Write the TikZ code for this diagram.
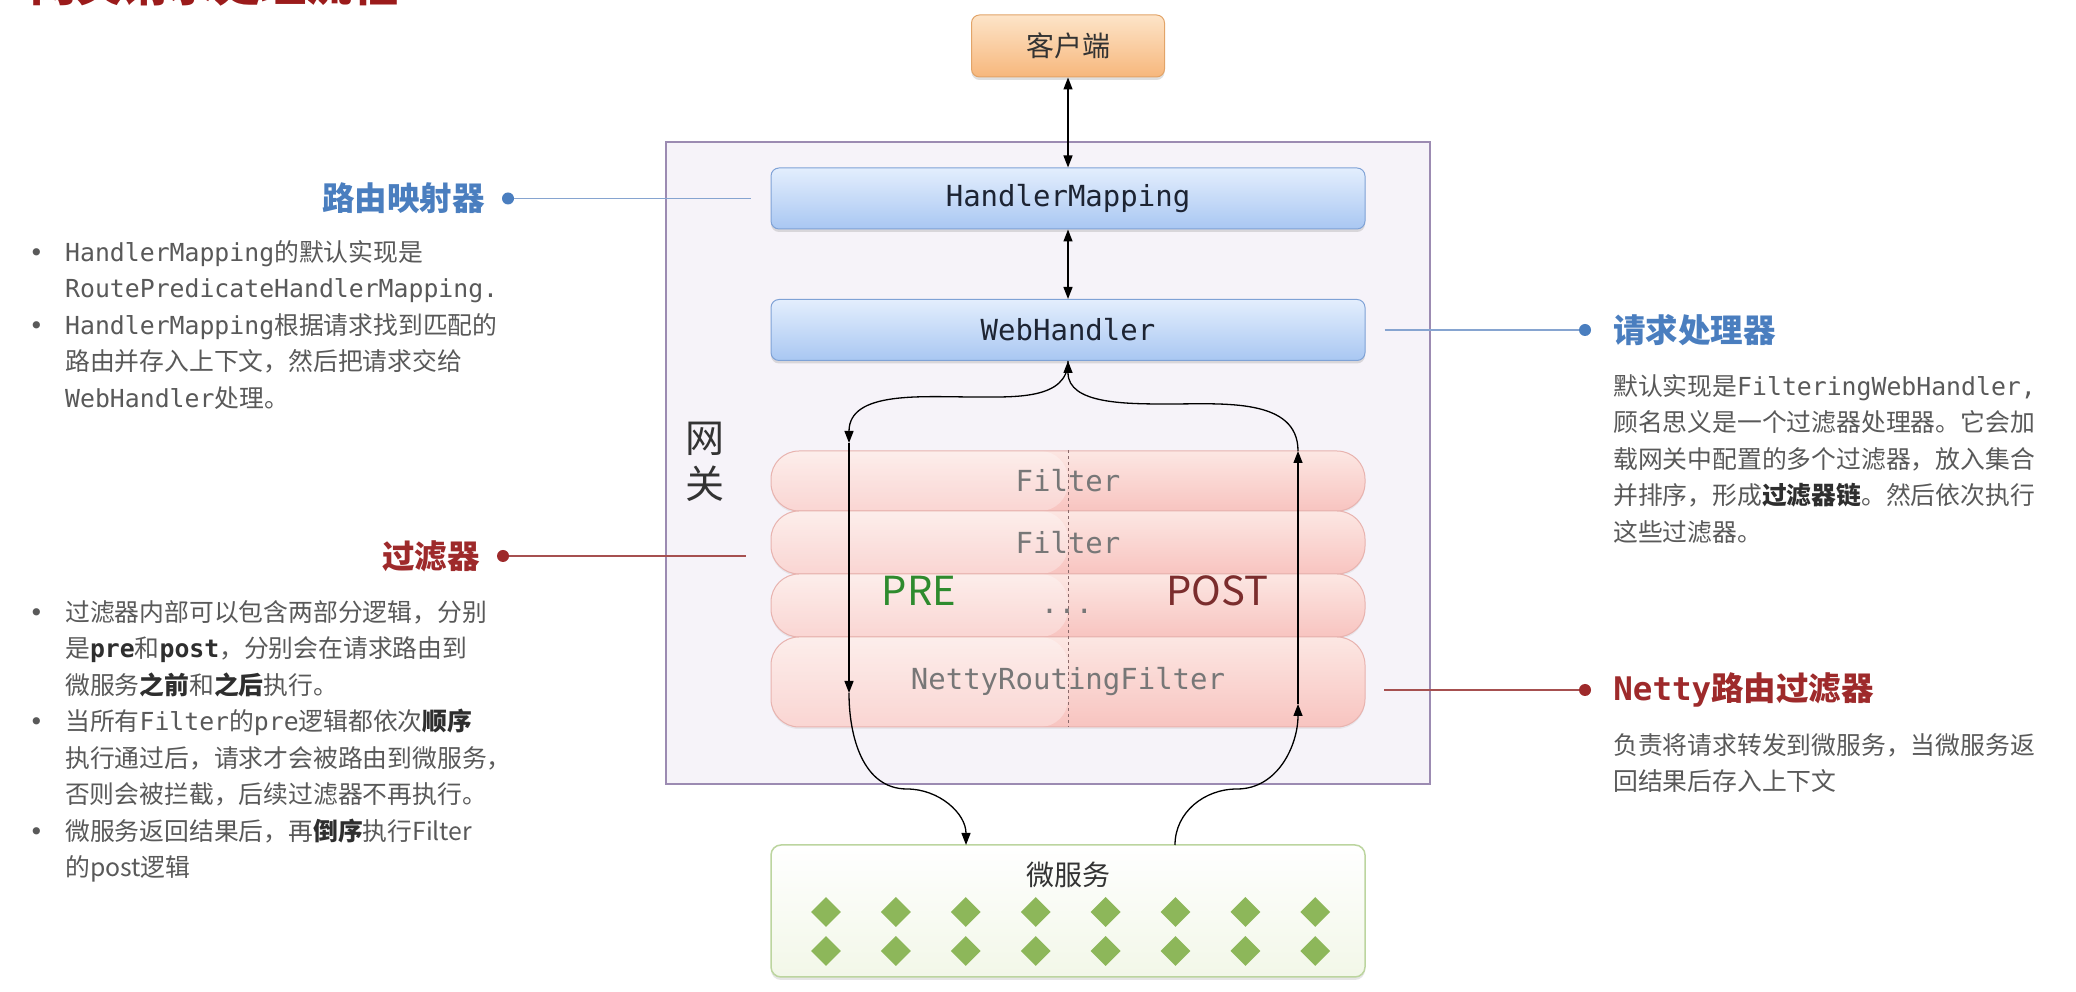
\documentclass[tikz,border=0pt]{standalone}
\usepackage{fontspec}
\setmainfont{Noto Sans CJK SC}
\newfontfamily\codefont{DejaVu Sans Mono}
\newfontfamily\symfont{DejaVu Sans}
\usetikzlibrary{arrows.meta,positioning,shadows,shapes.geometric}

\definecolor{titlered}{HTML}{9B1B1B}
\definecolor{labelblue}{HTML}{4A7EBF}
\definecolor{lineblue}{HTML}{86A4D0}
\definecolor{labelred}{HTML}{9E2A2B}
\definecolor{linered}{HTML}{A65050}
\definecolor{bodygray}{HTML}{595959}
\definecolor{boldgray}{HTML}{2E2E2E}
\definecolor{gwfill}{HTML}{F6F3F9}
\definecolor{gwline}{HTML}{9C8BB2}
\definecolor{hmtop}{HTML}{E3EEFD}
\definecolor{hmbot}{HTML}{A9C7F2}
\definecolor{hmline}{HTML}{7FA2D6}
\definecolor{hmtext}{HTML}{1D2433}
\definecolor{cltop}{HTML}{FDE4C8}
\definecolor{clbot}{HTML}{F7B77C}
\definecolor{clline}{HTML}{E2A468}
\definecolor{fttop}{HTML}{FCE7E3}
\definecolor{ftbot}{HTML}{F8C4C0}
\definecolor{ftline}{HTML}{E8B3AF}
\definecolor{filtertext}{HTML}{777777}
\definecolor{dashgray}{HTML}{8A6A6A}
\definecolor{msline}{HTML}{BCD59F}
\definecolor{msbot}{HTML}{F2F7E8}
\definecolor{leafgreen}{HTML}{8DB75A}
\definecolor{pregreen}{HTML}{2E8B2E}
\definecolor{postred}{HTML}{7B2D2D}
\definecolor{labeltext}{HTML}{333333}

\newcommand{\code}[1]{{\codefont #1}}
\newcommand{\hl}[1]{{\bfseries\color{boldgray}#1}}
\newcommand{\bl}{\makebox[36pt][l]{\symfont •}}
\newcommand{\ind}{\hspace*{36pt}}

\tikzset{
  >={Triangle[length=12pt,width=9pt]},
  flowline/.style={line width=1.3pt},
  handler/.style={draw=hmline, line width=1pt, rounded corners=8pt, top color=hmtop, bottom color=hmbot,
    minimum width=594pt, minimum height=61pt, inner sep=0pt, text=hmtext,
    font=\codefont\fontsize{29}{29}\selectfont,
    drop shadow={shadow xshift=0pt, shadow yshift=-3pt, opacity=.25}},
  client/.style={handler, draw=clline, top color=cltop, bottom color=clbot, text=labeltext,
    minimum width=193pt, minimum height=62pt, font=\fontsize{28}{28}\selectfont},
  filterbox/.style={draw=ftline, line width=1pt, rounded corners=28pt, top color=fttop, bottom color=ftbot,
    minimum width=594pt, inner sep=0pt, text=filtertext, font=\codefont\fontsize{29}{29}\selectfont,
    path picture={\fill[white,opacity=.3] (path picture bounding box.south west) rectangle (path picture bounding box.north);},
    drop shadow={shadow xshift=0pt, shadow yshift=-2pt, opacity=.12}},
  msbox/.style={draw=msline, line width=1.5pt, rounded corners=10pt, top color=white, bottom color=msbot,
    minimum width=594pt, minimum height=132pt, inner sep=0pt,
    drop shadow={shadow xshift=0pt, shadow yshift=-3pt, opacity=.2}},
  leafnode/.style={shape=diamond, fill=leafgreen, minimum width=30pt, minimum height=30pt, inner sep=0pt},
  calldot/.style={circle, minimum size=12pt, inner sep=0pt},
  calltitle/.style={inner sep=0pt, font=\bfseries\fontsize{32.5}{32.5}\selectfont},
  callline/.style={line width=1.3pt},
  bodytext/.style={anchor=north west, align=left, inner sep=0pt, text=bodygray, font=\fontsize{24.8}{36.5}\selectfont}
}

\begin{document}
\begin{tikzpicture}[x=1pt,y=1pt]

  \def\cx{1068}   %centre line of the gateway column

  %BACKGROUND
  \fill[white] (0,0) rectangle (2076,992);
  \useasboundingbox (0,0) rectangle (2076,992);

  %TITLE (cut off by the top edge)
  \node[anchor=base west, inner sep=0pt, text=titlered, font=\bfseries\fontsize{46}{46}\selectfont] (title) at (30,990) {网关请求处理流程};

  %GATEWAY
  \node[draw=gwline, line width=1.2pt, fill=gwfill, minimum width=764pt, minimum height=642pt, inner sep=0pt] (gw) at (1048,529) {};
  \node[align=center, inner sep=0pt, text=labeltext, font=\fontsize{39}{46}\selectfont] (gwname) at (705,530) {网\\关};

  %CLIENT AND HANDLERS
  \node[client] (client) at (\cx,946) {客户端};
  \node[handler] (hm) at (\cx,793.5) {HandlerMapping};
  \node[handler] (wh) at (\cx,662) {WebHandler};
  \draw[flowline,<->] (client) -- (hm);
  \draw[flowline,<->] (hm) -- (wh);

  %FILTER CHAIN
  \node[filterbox, minimum height=60pt] (f1) at (\cx,511) {Filter};
  \node[filterbox, minimum height=63pt] (f2) at (\cx,449.5) {Filter};
  \node[filterbox, minimum height=63pt] (f3) at (\cx,386.5) {};
  \node[filterbox, minimum height=90pt] (netty) at (\cx,310) {NettyRoutingFilter};
  \draw[dashed, line width=.8pt, draw=dashgray] (f1.north) -- (netty.south);
  \node[inner sep=0pt, text=pregreen, font=\fontsize{40}{40}\selectfont] (pre) at (919,401) {PRE};
  \node[inner sep=0pt, text=postred, font=\fontsize{40}{40}\selectfont] (post) at (1217,401) {POST};
  \node[inner sep=0pt, text=filtertext, font=\codefont\fontsize{29}{29}\selectfont] (dots) at (1067,381) {...};

  %MICROSERVICES
  \node[msbox] (ms) at (\cx,81) {};
  \node[inner sep=0pt, text=labeltext, font=\fontsize{28}{28}\selectfont] (msname) at (\cx,117) {微服务};
  \foreach \i in {0,...,7}{
    \foreach \y in {80,41}{
      \node[leafnode] (leaf-\i-\y) at (826+69.9*\i,\y) {};
    }
  }

  %PRE PATH
  \coordinate (preTurn) at (975,595);
  \coordinate (preIn) at (849,549);
  \coordinate (preOut) at (849,299);
  \coordinate (preDip) at (907,203);
  \coordinate (msIn) at (966,147);
  \draw[flowline,->] (wh.south) to[out=-90,in=0] (preTurn) to[out=180,in=90] (preIn);
  \draw[flowline,->] (preIn) -- (preOut);
  \draw[flowline,->] (preOut) to[out=-90,in=180] (preDip) to[out=0,in=90] (msIn);

  %POST PATH
  \coordinate (msOut) at (1175,147);
  \coordinate (postDip) at (1237,203);
  \coordinate (postIn) at (1298,288);
  \coordinate (postOut) at (1298,541);
  \coordinate (postTurn) at (1170,588);
  \draw[flowline,->] (msOut) to[out=90,in=180] (postDip) to[out=0,in=-90] (postIn);
  \draw[flowline,->] (postIn) -- (postOut);
  \draw[flowline,->] (postOut) to[out=90,in=0] (postTurn) to[out=180,in=-90] (wh.south);

  %CALLOUTS LEFT
  \node[calldot, fill=labelblue] (hmdot) at (508,793.5) {};
  \node[calltitle, text=labelblue, left=17pt of hmdot] (hmtitle) {路由映射器};
  \coordinate[left=20pt of hm] (hmend);
  \draw[callline, draw=lineblue] (hmdot) -- (hmend);

  \node[calldot, fill=labelred] (fdot) at (503,436) {};
  \node[calltitle, text=labelred, left=17pt of fdot] (ftitle) {过滤器};
  \coordinate (fend) at (746,436);
  \draw[callline, draw=linered] (fdot) -- (fend);

  %CALLOUTS RIGHT
  \coordinate[right=19pt of wh] (whend);
  \node[calldot, fill=labelblue] (whdot) at (1585,662) {};
  \node[calltitle, text=labelblue, right=22pt of whdot] (whtitle) {请求处理器};
  \draw[callline, draw=lineblue] (whend) -- (whdot);

  \coordinate (nettyend) at (1384,302);
  \node[calldot, fill=labelred] (nettydot) at (1585,302) {};
  \node[calltitle, text=labelred, right=22pt of nettydot] (nettytitle) {{\codefont Netty}路由过滤器};
  \draw[callline, draw=linered] (nettyend) -- (nettydot);

  %NOTES
  \node[bodytext] (hmnote) at (29,752) {%
    \bl\code{HandlerMapping}的默认实现是\\
    \ind\code{RoutePredicateHandlerMapping.}\\
    \bl\code{HandlerMapping}根据请求找到匹配的\\
    \ind 路由并存入上下文，然后把请求交给\\
    \ind\code{WebHandler}处理。};

  \node[bodytext] (fnote) at (29,392) {%
    \bl 过滤器内部可以包含两部分逻辑，分别\\
    \ind 是\hl{\codefont pre}和\hl{\codefont post}，分别会在请求路由到\\
    \ind 微服务\hl{之前}和\hl{之后}执行。\\
    \bl 当所有\code{Filter}的\code{pre}逻辑都依次\hl{顺序}\\
    \ind 执行通过后，请求才会被路由到微服务，\\
    \ind 否则会被拦截，后续过滤器不再执行。\\
    \bl 微服务返回结果后，再\hl{倒序}执行Filter\\
    \ind 的post逻辑};

  \node[bodytext] (whnote) at (1613,618) {%
    默认实现是\code{FilteringWebHandler,}\\
    顾名思义是一个过滤器处理器。它会加\\
    载网关中配置的多个过滤器，放入集合\\
    并排序，形成\hl{过滤器链}。然后依次执行\\
    这些过滤器。};

  \node[bodytext] (nettynote) at (1613,259) {%
    负责将请求转发到微服务，当微服务返\\
    回结果后存入上下文};

\end{tikzpicture}
\end{document}
